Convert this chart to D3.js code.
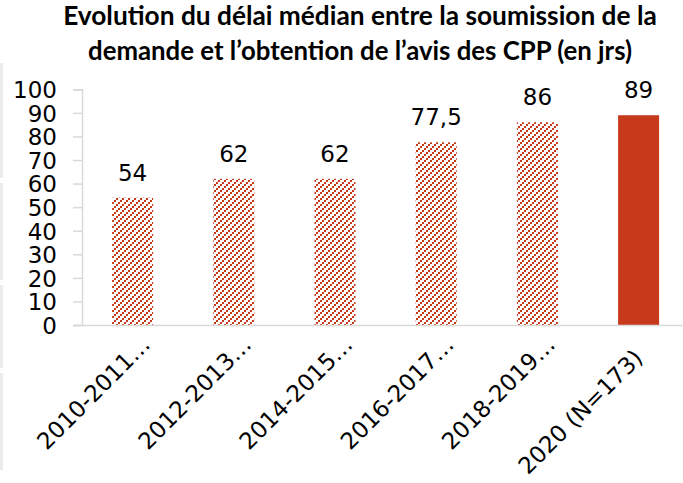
<!DOCTYPE html>
<html><head><meta charset="utf-8">
<script src="https://cdn.jsdelivr.net/npm/d3@7"></script>
<style>html,body{margin:0;padding:0;background:#fff;overflow:hidden}</style>
</head><body>
<svg id="chart" width="683" height="483"></svg>
<script>
const categories = ["2010-2011…", "2012-2013…", "2014-2015…", "2016-2017…", "2018-2019…", "2020 (N=173)"];
const values = [54, 62, 62, 77.5, 86, 89];
const valueLabels = ["54", "62", "62", "77,5", "86", "89"];
const hatched = [true, true, true, true, true, false];
const yTicks = [0, 10, 20, 30, 40, 50, 60, 70, 80, 90, 100];
const titleLines = ["Evolution du délai médian entre la soumission de la", "demande et l’obtention de l’avis des CPP (en jrs)"];

const red = "#C8381A";
const svg = d3.select("#chart");
const defs = svg.append("defs");
const pat = defs.append("pattern").attr("id", "hatch").attr("patternUnits", "userSpaceOnUse")
  .attr("width", 6).attr("height", 6).attr("x", 112).attr("y", 0);
pat.append("rect").attr("width", 6).attr("height", 6).attr("fill", "#fff");
[[4,0],[2,2],[0,4]].forEach(([a,b]) => pat.append("rect").attr("x", a).attr("y", b).attr("width", 2).attr("height", 2).attr("fill", red));

// faint left border artefact
[[63,178],[183,280],[285,368],[373,470]].forEach(([a,b]) =>
  svg.append("rect").attr("x", 0).attr("y", a).attr("width", 3).attr("height", b - a).attr("fill", "#ececec"));

const x = d3.scaleBand().domain(categories).range([82, 82 + 6 * 101.2]).paddingInner(0.595).paddingOuter(0.2975);
const y = d3.scaleLinear().domain([0, 100]).range([325, 89.3]);

// y axis
const yAxis = svg.append("g").attr("transform", "translate(82,0)")
  .call(d3.axisLeft(y).tickValues(yTicks).tickSize(9).tickPadding(16).tickFormat(d3.format("d")));
yAxis.select(".domain").attr("stroke", "#d9d9d9").attr("stroke-width", 1.5);
yAxis.selectAll(".tick line").attr("stroke", "#d9d9d9").attr("stroke-width", 1.5);
yAxis.selectAll(".tick text").attr("font-family", "DejaVu Sans, Verdana, sans-serif").attr("font-size", 23).attr("fill", "#000").attr("dy", "0.36em");

// bars
svg.append("g").selectAll("rect").data(categories).join("rect")
  .attr("x", d => x(d)).attr("width", x.bandwidth())
  .attr("y", (d, i) => y(values[i])).attr("height", (d, i) => y(0) - y(values[i]))
  .attr("fill", (d, i) => hatched[i] ? "url(#hatch)" : red);

// x axis baseline
svg.append("line").attr("x1", 73).attr("x2", 683).attr("y1", y(0) + 0.5).attr("y2", y(0) + 0.5)
  .attr("stroke", "#d9d9d9").attr("stroke-width", 1.5);

// value labels
svg.append("g").selectAll("text").data(categories).join("text")
  .attr("x", d => x(d) + x.bandwidth() / 2).attr("y", (d, i) => y(values[i]) - 17)
  .attr("text-anchor", "middle").attr("font-family", "DejaVu Sans, Verdana, sans-serif")
  .attr("font-size", 23).attr("fill", "#000").text((d, i) => valueLabels[i]);

// x labels
svg.append("g").selectAll("text").data(categories).join("text")
  .attr("transform", d => `translate(${x(d) + x.bandwidth() / 2 + 19},346) rotate(-45)`)
  .attr("dx", d => d.endsWith("…") ? 0 : -19)
  .attr("text-anchor", "end").attr("font-family", "DejaVu Sans, Verdana, sans-serif")
  .attr("font-size", 23).attr("fill", "#000").text(d => d);

// title
const targets = [594, 544];
const baselines = [25, 60];
const tnodes = titleLines.map((t, i) => svg.append("text").attr("x", 360).attr("y", baselines[i]).attr("text-anchor", "middle")
    .attr("font-family", "Lato, 'Open Sans', sans-serif").attr("font-weight", "bold")
    .attr("font-size", 24).attr("fill", "#000").text(t));
const w0 = tnodes[0].node().getComputedTextLength();
const fs = w0 > 0 ? 24 * targets[0] / w0 : 24;
tnodes.forEach((tx, i) => {
  tx.attr("font-size", fs.toFixed(2));
  const w = tx.node().getComputedTextLength();
  if (Math.abs(w - targets[i]) > 4) tx.attr("textLength", targets[i]).attr("lengthAdjust", "spacingAndGlyphs");
});
</script>
</body></html>
